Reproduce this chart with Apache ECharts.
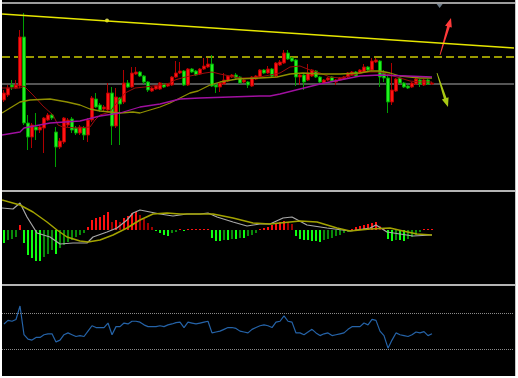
<!DOCTYPE html>
<html><head><meta charset="utf-8">
<script src="https://cdn.jsdelivr.net/npm/echarts@6/dist/echarts.min.js"></script>
<style>html,body{margin:0;padding:0;background:#fff;}#c{position:absolute;left:2px;top:0;width:514px;height:376px;background:#000;}</style>
</head><body><div id="c"></div><script>
// [open, close, low, high]
const candles = [
[100,107,98,110],[105,112,103,115],[115,113,110,120],[112,115,111,120],[114,163,112,170],
[163,77,75,187],[77,63,50,85],[63,75,52,77],[73,70,60,87],[70,73,67,75],
[72,82,47,83],[80,85,79,87],[85,82,80,87],[68,53,33,73],[53,59,51,62],
[58,82,56,83],[75,80,73,82],[81,70,67,83],[72,67,65,74],[67,73,65,75],
[72,65,60,74],[65,80,58,82],[80,102,78,104],[101,93,92,107],[95,90,88,97],
[91,93,89,95],[90,107,88,117],[107,74,55,113],[74,103,72,112],[102,96,55,103],
[98,117,96,130],[117,113,112,120],[113,127,112,133],[126,128,125,133],[128,124,123,129],
[124,118,116,125],[118,110,108,119],[109,112,108,113],[111,114,110,115],[111,117,110,118],
[116,113,112,117],[114,116,113,117],[115,123,114,124],[123,127,122,139],[127,129,126,138],
[129,115,114,130],[115,131,114,132],[131,128,127,132],[129,125,124,130],[126,131,125,132],
[131,134,130,142],[133,136,132,142],[136,114,113,145],[115,113,107,116],[113,117,108,118],
[116,120,115,127],[119,124,118,125],[123,125,122,126],[125,122,121,127],[123,117,116,124],
[118,120,117,121],[118,115,112,119],[114,123,113,124],[121,124,120,125],[123,130,122,131],
[130,127,126,131],[127,131,126,134],[131,124,123,132],[124,137,123,138],[135,138,134,140],
[137,147,136,150],[147,141,140,150],[142,139,138,143],[140,123,114,141],[123,125,115,126],
[125,118,110,126],[120,127,119,136],[124,130,123,131],[129,123,122,130],[123,118,117,124],
[117,120,116,121],[120,122,119,123],[123,119,118,124],[118,120,115,121],[120,122,119,123],
[121,123,120,124],[123,127,122,128],[125,128,124,129],[128,124,123,129],[127,130,126,131],
[128,133,127,136],[133,130,129,134],[130,139,129,142],[138,140,137,142],[139,123,113,140],
[127,122,118,130],[122,98,87,124],[98,110,95,137],[109,121,108,122],[122,117,116,123],
[117,113,112,118],[114,112,111,115],[113,117,112,118],[116,121,115,122],[120,116,113,121],
[115,120,114,121],[120,116,115,121],[116,117,115,118]
];
const maFast = [[-0.5,112],[4,112],[5,114],[7.25,105],[9.75,94],[12.25,85],[13.5,75],[14.75,73],[18.25,72],[21.5,73],[22.75,80],[24,85],[26.5,88],[27.75,95],[30.25,107],[32.75,112],[35.25,113],[39,115],[41.5,117],[42.75,120],[45.25,123],[47.75,125],[50.25,127],[52,128],[54,126],[56.5,124],[59,122],[61.5,122],[64,123],[66.5,125],[69,127],[71.5,133],[74,134],[76.5,130],[79,127],[81.5,123],[84,122],[86.5,124],[89,127],[91.5,128],[94,128],[96.5,125],[99,122],[101.5,119],[104,118],[107,118]];
const maMid = [[-0.5,87],[4,98],[6.5,100],[11.5,101],[15.75,98],[19,95],[21.5,91],[24,89],[26.5,88],[29,87],[32.25,88],[34,87],[36.5,90],[39,93],[41.5,97],[44,102],[46.5,107],[48.5,109],[51.5,115],[54,118],[58.25,121],[64,122],[68.25,123],[71.5,126],[74.75,127],[79,126],[84,126],[89,127],[91.5,129],[94,129],[96.5,127],[99,124],[101.5,123],[104,122],[107,122]];
const maSlow = [[-0.5,65],[4,68],[5,72],[11.5,77],[19,79],[24,84],[29,87],[34,93],[39,96],[44,101],[49,102],[56.5,103],[64,104],[66.5,104],[69,106],[74,111],[79,116],[84,120],[86.5,122],[89,124],[94,125],[100.75,124],[107,123]];
const trendLine = [[-0.5,185.9],[127.5,152.1]];
const trendDot = [[25.75,179.5]];
const dashedLevel = 143;
const grayLevel = 116.5;
const upArrow = [109,145,111.75,182];
const downArrow = [108.25,127,111,93];
const topMarker = [[108.9,195]];
const hist = [-13,-10,-9,-7,5,-13,-25,-28,-31,-31,-27,-24,-20,-24,-18,-15,-12,-10,-7,-5,-3,3,10,12,13,15,18,8,10,8,12,14,17,18,15,11,7,3,-1,-3,-5,-6,-3,-2,1,-1,1,1,1,1,1,1,-8,-11,-11,-10,-10,-9,-9,-8,-8,-6,-5,-3,1,2,3,5,7,8,9,8,6,-6,-9,-10,-10,-11,-11,-12,-10,-9,-8,-6,-5,-3,-2,1,3,4,5,6,7,8,4,1,-9,-11,-10,-10,-11,-9,-7,-5,-2,1,1,1];
const macdLine = [[-0.5,22],[2.25,21],[4,27],[5.75,13],[8.25,-3],[11.5,-7],[14,-14],[17.25,-13],[20.75,-13],[22.25,-7],[25.75,-2],[28.25,2],[30.75,10],[32.25,17],[34,20],[36.5,18],[39,16],[42.25,14],[45.75,16],[49,16],[51,17],[53.25,13],[57.25,8],[60.75,4],[64,6],[66.5,6],[69.75,12],[72,13],[75.75,5],[80.75,2],[86.5,-1],[91.5,2],[93,5],[95.75,-2],[99,-4],[102.25,-6],[107,-5]];
const signalLine = [[-0.5,30],[4,25],[7.25,18],[10.75,8],[13.25,0],[15.75,-7],[19,-11],[21,-12],[24,-10],[27.25,-5],[30.75,2],[34,10],[37.25,16],[40.75,17],[44,16],[49,16],[52.25,16],[57.25,12],[62.25,7],[66.5,6],[74,9],[78.25,8],[83.25,2],[86.5,-1],[91.5,1],[96.5,2],[99.75,-1],[103.25,-4],[107,-5]];
const rsi = [58,62,61,63,78,46,41,40,43,43,46,47,47,38,40,46,48,46,44,45,44,50,56,54,54,54,59,46,55,55,59,58,61,61,60,57,55,55,55,56,55,57,58,59.5,60,54,60,59,58,59,60,61,48,49,50,52,54,54,53,50,49,48,52,54,56,57,56,54,60,61,67,61,60,48,48,46,49,52,48,45,47,48,45,46,47,48,52,55,55,55,59,57,63,62,50,45,31,40,48,46,45,44,46,49,48,49.5,45,47];
const rsiLevels = [70, 30];
const slots = Array.from({length:128}, (_, i) => String(i));

const histData = hist.map((v, i) => {
  const p = i > 0 ? hist[i-1] : v;
  let c;
  if (v >= 0) c = v >= p ? '#ff1010' : '#a00000';
  else c = v <= p ? '#10ff10' : '#0a8a0a';
  return {value: v, itemStyle: {color: c}};
});

function arrowItem(color) {
  return function (params, api) {
    const p1 = api.coord([api.value(0), api.value(1)]);
    const p2 = api.coord([api.value(2), api.value(3)]);
    const dx = p2[0]-p1[0], dy = p2[1]-p1[1];
    const len = Math.sqrt(dx*dx+dy*dy);
    const ux = dx/len, uy = dy/len, nx = -uy, ny = ux;
    const hl = 9, hw = 3.5, sw = 1.4, tw = 0.4;
    const bx = p2[0]-ux*hl, by = p2[1]-uy*hl;
    const pts = [
      [p1[0]+nx*tw, p1[1]+ny*tw], [bx+nx*sw, by+ny*sw], [bx+nx*hw, by+ny*hw], p2,
      [bx-nx*hw, by-ny*hw], [bx-nx*sw, by-ny*sw], [p1[0]-nx*tw, p1[1]-ny*tw]
    ];
    return {type:'polygon', shape:{points: pts}, style:{fill: color}};
  };
}

const chart = echarts.init(document.getElementById('c'), null, {renderer:'canvas'});
const valX = (g) => ({type:'value', gridIndex:g, min:-0.5, max:127.5, show:false});
chart.setOption({
  animation: false,
  backgroundColor: '#000',
  grid: [
    {left:0, width:512, top:3, height:187},
    {left:0, width:512, top:192, height:92},
    {left:0, width:512, top:286.25, height:92.5}
  ],
  xAxis: [
    {type:'category', gridIndex:0, data:slots, boundaryGap:true, show:false},
    valX(0),
    {type:'category', gridIndex:1, data:slots, boundaryGap:true, show:false},
    valX(1),
    {type:'category', gridIndex:2, data:slots, boundaryGap:true, show:false}
  ],
  yAxis: [
    {type:'value', gridIndex:0, min:10, max:197, show:false},
    {type:'value', gridIndex:1, min:-54, max:38, show:false},
    {type:'value', gridIndex:2, min:0, max:100, show:false}
  ],
  graphic: [
    {type:'rect', z:100, shape:{x:0,y:2,width:514,height:2}, style:{fill:'#9c9c9c'}},
    {type:'rect', z:100, shape:{x:0,y:190,width:514,height:2}, style:{fill:'#b4b4b4'}},
    {type:'rect', z:100, shape:{x:0,y:284,width:514,height:2}, style:{fill:'#b4b4b4'}},
    {type:'rect', z:100, shape:{x:513,y:0,width:1,height:376}, style:{fill:'#c8c8c8'}}
  ],
  series: [
    {type:'candlestick', xAxisIndex:0, yAxisIndex:0, data:candles, barWidth:3,
      itemStyle:{color:'#ff1414', color0:'#22f022', borderColor:'#b00000', borderColor0:'#00a000', borderWidth:1},
      markLine:{silent:true, symbol:'none', label:{show:false}, z:1,
        data:[
          {yAxis:dashedLevel, lineStyle:{color:'#999900', type:[8,4], width:2}},
          {yAxis:grayLevel, lineStyle:{color:'#555', type:'solid', width:2}}
        ]}},
    {type:'line', xAxisIndex:1, yAxisIndex:0, data:maFast, showSymbol:false, lineStyle:{color:'#9a0c0c', width:1}},
    {type:'line', xAxisIndex:1, yAxisIndex:0, data:maMid, showSymbol:false, lineStyle:{color:'#8f8f00', width:1.3}},
    {type:'line', xAxisIndex:1, yAxisIndex:0, data:maSlow, showSymbol:false, lineStyle:{color:'#a010a0', width:1.3}},
    {type:'line', xAxisIndex:1, yAxisIndex:0, data:trendLine, showSymbol:false, lineStyle:{color:'#e6e600', width:1.5}},
    {type:'scatter', xAxisIndex:1, yAxisIndex:0, data:trendDot, symbol:'circle', symbolSize:4, itemStyle:{color:'#ffff66'}},
    {type:'scatter', xAxisIndex:1, yAxisIndex:0, data:topMarker, symbol:'triangle', symbolRotate:180, symbolSize:[9,6], itemStyle:{color:'#8799aa'}},
    {type:'custom', xAxisIndex:1, yAxisIndex:0, data:[upArrow], encode:{x:[0,2], y:[1,3]}, renderItem: arrowItem('#ff3a3a')},
    {type:'custom', xAxisIndex:1, yAxisIndex:0, data:[downArrow], encode:{x:[0,2], y:[1,3]}, renderItem: arrowItem('#a8c814')},
    {type:'bar', xAxisIndex:2, yAxisIndex:1, data:histData, barWidth:2},
    {type:'line', xAxisIndex:3, yAxisIndex:1, data:macdLine, showSymbol:false, lineStyle:{color:'#a8a8a8', width:1.2}, z:3},
    {type:'line', xAxisIndex:3, yAxisIndex:1, data:signalLine, showSymbol:false, lineStyle:{color:'#a3a300', width:1.5}, z:4},
    {type:'line', xAxisIndex:4, yAxisIndex:2, data:rsi, showSymbol:false, lineStyle:{color:'#2563a8', width:1.2},
      markLine:{silent:true, symbol:'none', label:{show:false},
        data: rsiLevels.map(v => ({yAxis:v})),
        lineStyle:{color:'#8a8a8a', type:'dotted', width:1}}}
  ]
});
</script></body></html>
